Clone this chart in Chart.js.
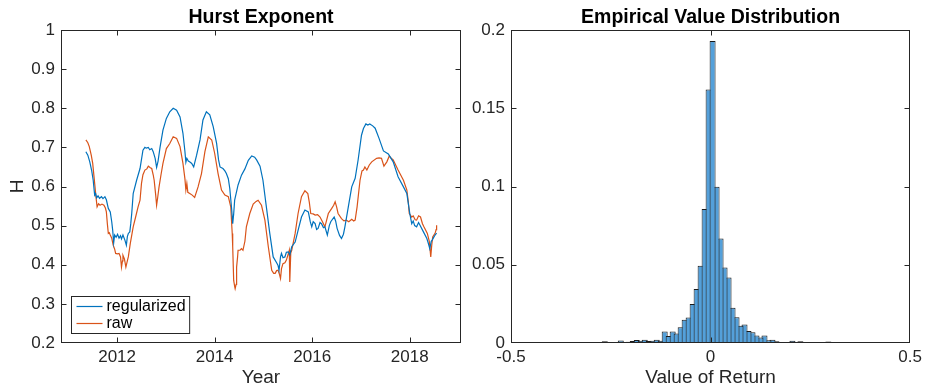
<!DOCTYPE html>
<html>
<head>
<meta charset="utf-8">
<script src="https://cdn.jsdelivr.net/npm/chart.js@4.4.1/dist/chart.umd.min.js"></script>
<style>
  html, body { margin: 0; padding: 0; background: #fff; }
  #wrap { position: relative; width: 926px; height: 391px; overflow: hidden; }
  canvas { position: absolute; top: 0; }
  #hurst { left: 0; }
  #dist { left: 465px; }
</style>
</head>
<body>
<div id="wrap">
  <canvas id="hurst" width="470" height="391"></canvas>
  <canvas id="dist" width="461" height="391"></canvas>
</div>
<script>
// ---- Hurst exponent, regularized estimate (decimal year, H) ----
const regYears = [
  2011.36, 2011.40, 2011.44, 2011.48, 2011.51, 2011.54, 2011.56, 2011.58, 2011.61, 2011.64,
  2011.68, 2011.71, 2011.75, 2011.78, 2011.82, 2011.86, 2011.89, 2011.91, 2011.93, 2011.95,
  2011.98, 2012.01, 2012.04, 2012.07, 2012.09, 2012.12, 2012.16, 2012.19, 2012.21, 2012.23,
  2012.26, 2012.28, 2012.30, 2012.33, 2012.40, 2012.47, 2012.53, 2012.57, 2012.60, 2012.64,
  2012.67, 2012.71, 2012.74, 2012.78, 2012.81, 2012.84, 2012.88, 2012.94, 2013.01, 2013.08,
  2013.15, 2013.22, 2013.29, 2013.35, 2013.39, 2013.41, 2013.43, 2013.46, 2013.50, 2013.53,
  2013.57, 2013.63, 2013.70, 2013.76, 2013.83, 2013.90, 2013.97, 2014.04, 2014.08, 2014.11,
  2014.14, 2014.17, 2014.21, 2014.24, 2014.28, 2014.31, 2014.35, 2014.37, 2014.39, 2014.41,
  2014.48, 2014.55, 2014.62, 2014.69, 2014.76, 2014.82, 2014.86, 2014.93, 2014.99, 2015.06,
  2015.13, 2015.20, 2015.27, 2015.30, 2015.32, 2015.35, 2015.37, 2015.40, 2015.44, 2015.47,
  2015.51, 2015.54, 2015.58, 2015.65, 2015.71, 2015.78, 2015.85, 2015.92, 2015.96, 2015.99,
  2016.02, 2016.06, 2016.09, 2016.12, 2016.16, 2016.19, 2016.23, 2016.26, 2016.31, 2016.35,
  2016.38, 2016.45, 2016.48, 2016.51, 2016.56, 2016.60, 2016.64, 2016.67, 2016.74, 2016.81,
  2016.88, 2016.94, 2017.01, 2017.05, 2017.10, 2017.14, 2017.18, 2017.24, 2017.29, 2017.37,
  2017.46, 2017.56, 2017.66, 2017.76, 2017.87, 2017.94, 2018.00, 2018.04, 2018.07, 2018.10,
  2018.14, 2018.18, 2018.21, 2018.28, 2018.35, 2018.38, 2018.41, 2018.44, 2018.46, 2018.49,
  2018.52, 2018.55
];
const regH = [
  0.689, 0.680, 0.663, 0.640, 0.616, 0.578, 0.582, 0.571, 0.576, 0.570,
  0.574, 0.569, 0.574, 0.566, 0.544, 0.535, 0.510, 0.488, 0.456, 0.476,
  0.470, 0.478, 0.468, 0.474, 0.466, 0.476, 0.463, 0.450, 0.472, 0.480,
  0.484, 0.505, 0.531, 0.582, 0.616, 0.646, 0.693, 0.700, 0.698, 0.700,
  0.694, 0.697, 0.689, 0.672, 0.649, 0.665, 0.700, 0.744, 0.774, 0.791,
  0.800, 0.795, 0.778, 0.736, 0.690, 0.662, 0.672, 0.665, 0.662, 0.659,
  0.650, 0.680, 0.719, 0.770, 0.791, 0.783, 0.753, 0.710, 0.668, 0.650,
  0.648, 0.646, 0.640, 0.633, 0.620, 0.595, 0.540, 0.505, 0.530, 0.565,
  0.604, 0.629, 0.645, 0.667, 0.678, 0.675, 0.668, 0.652, 0.616, 0.548,
  0.480, 0.420, 0.405, 0.398, 0.386, 0.420, 0.429, 0.418, 0.420, 0.432,
  0.433, 0.425, 0.446, 0.458, 0.488, 0.522, 0.540, 0.535, 0.510, 0.497,
  0.510, 0.505, 0.490, 0.493, 0.508, 0.505, 0.495, 0.497, 0.476, 0.500,
  0.510, 0.522, 0.512, 0.493, 0.475, 0.467, 0.478, 0.497, 0.548, 0.599,
  0.621, 0.667, 0.731, 0.748, 0.760, 0.757, 0.760, 0.755, 0.749, 0.723,
  0.691, 0.683, 0.663, 0.625, 0.599, 0.582, 0.531, 0.505, 0.512, 0.500,
  0.497, 0.508, 0.501, 0.484, 0.467, 0.455, 0.441, 0.460, 0.463, 0.470,
  0.476, 0.481
];

// ---- Hurst exponent, raw estimate (decimal year, H) ----
const rawYears = [
  2011.36, 2011.40, 2011.43, 2011.47, 2011.50, 2011.54, 2011.57, 2011.59, 2011.62, 2011.65,
  2011.69, 2011.73, 2011.76, 2011.78, 2011.80, 2011.82, 2011.84, 2011.86, 2011.89, 2011.92,
  2011.95, 2011.97, 2012.01, 2012.04, 2012.07, 2012.09, 2012.11, 2012.12, 2012.15, 2012.18,
  2012.21, 2012.23, 2012.27, 2012.33, 2012.38, 2012.43, 2012.47, 2012.50, 2012.53, 2012.57,
  2012.61, 2012.64, 2012.68, 2012.71, 2012.74, 2012.76, 2012.79, 2012.81, 2012.83, 2012.86,
  2012.90, 2012.94, 2013.01, 2013.08, 2013.15, 2013.22, 2013.29, 2013.35, 2013.39, 2013.41,
  2013.43, 2013.45, 2013.49, 2013.54, 2013.59, 2013.66, 2013.73, 2013.80, 2013.87, 2013.94,
  2014.00, 2014.07, 2014.14, 2014.21, 2014.28, 2014.33, 2014.36, 2014.37, 2014.39, 2014.41,
  2014.42, 2014.44, 2014.45, 2014.47, 2014.48, 2014.52, 2014.55, 2014.58, 2014.62, 2014.65,
  2014.72, 2014.79, 2014.85, 2014.89, 2014.96, 2015.03, 2015.10, 2015.17, 2015.21, 2015.24,
  2015.27, 2015.30, 2015.33, 2015.35, 2015.37, 2015.40, 2015.44, 2015.47, 2015.51, 2015.53,
  2015.54, 2015.56, 2015.58, 2015.65, 2015.71, 2015.78, 2015.85, 2015.91, 2015.94, 2015.97,
  2016.02, 2016.06, 2016.11, 2016.16, 2016.21, 2016.26, 2016.33, 2016.40, 2016.44, 2016.47,
  2016.50, 2016.53, 2016.60, 2016.65, 2016.70, 2016.75, 2016.81, 2016.85, 2016.88, 2016.92,
  2016.98, 2017.02, 2017.05, 2017.08, 2017.12, 2017.17, 2017.22, 2017.32, 2017.37, 2017.42,
  2017.47, 2017.53, 2017.58, 2017.62, 2017.66, 2017.76, 2017.87, 2017.94, 2017.97, 2017.99,
  2018.04, 2018.07, 2018.11, 2018.14, 2018.18, 2018.22, 2018.26, 2018.29, 2018.36, 2018.40,
  2018.43, 2018.45, 2018.47, 2018.52, 2018.54, 2018.55
];
const rawH = [
  0.719, 0.712, 0.702, 0.680, 0.659, 0.608, 0.570, 0.548, 0.556, 0.552,
  0.555, 0.552, 0.545, 0.535, 0.505, 0.480, 0.482, 0.476, 0.468, 0.450,
  0.440, 0.429, 0.428, 0.429, 0.420, 0.394, 0.410, 0.424, 0.415, 0.394,
  0.410, 0.420, 0.454, 0.497, 0.522, 0.548, 0.565, 0.608, 0.630, 0.642,
  0.645, 0.652, 0.648, 0.646, 0.630, 0.616, 0.580, 0.552, 0.570, 0.599,
  0.630, 0.659, 0.697, 0.710, 0.727, 0.723, 0.702, 0.659, 0.620, 0.591,
  0.608, 0.585, 0.582, 0.578, 0.572, 0.599, 0.633, 0.689, 0.727, 0.719,
  0.685, 0.633, 0.591, 0.578, 0.574, 0.548, 0.480, 0.446, 0.360, 0.345,
  0.339, 0.350, 0.394, 0.420, 0.437, 0.437, 0.441, 0.437, 0.460, 0.497,
  0.531, 0.555, 0.562, 0.565, 0.552, 0.514, 0.446, 0.386, 0.378, 0.378,
  0.385, 0.386, 0.375, 0.365, 0.390, 0.403, 0.405, 0.412, 0.428, 0.437,
  0.356, 0.430, 0.437, 0.480, 0.531, 0.574, 0.589, 0.582, 0.560, 0.531,
  0.530, 0.527, 0.528, 0.522, 0.510, 0.497, 0.531, 0.544, 0.552, 0.561,
  0.548, 0.531, 0.518, 0.512, 0.514, 0.510, 0.516, 0.512, 0.514, 0.548,
  0.616, 0.640, 0.642, 0.650, 0.642, 0.655, 0.663, 0.672, 0.673, 0.672,
  0.652, 0.663, 0.678, 0.672, 0.668, 0.642, 0.616, 0.591, 0.560, 0.531,
  0.522, 0.525, 0.515, 0.514, 0.525, 0.522, 0.505, 0.497, 0.480, 0.460,
  0.420, 0.450, 0.471, 0.481, 0.490, 0.501
];

const yearTicks = [2012, 2014, 2016, 2018];
const hTicks = [0.2, 0.3, 0.4, 0.5, 0.6, 0.7, 0.8, 0.9, 1];

// ---- Empirical distribution of returns: probability per 0.01-wide bin ----
const binWidth = 0.01;
const firstBinCenter = -0.405;
const binProb = [
  0.0004, 0.0002, 0.0002, 0.0003, 0.0002, 0.0003, 0.0003, 0.0004, 0.0004, 0.0003,
  0.0003, 0.0005, 0.0003, 0.0006, 0.0011, 0.0006, 0.0005, 0.0006, 0.0016, 0.0007,
  0.0008, 0.0012, 0.0019, 0.0014, 0.0020, 0.0012, 0.0015, 0.0020, 0.0014, 0.0073,
  0.0045, 0.0073, 0.0061, 0.0100, 0.0148, 0.0163, 0.0250, 0.0345, 0.0493, 0.0857,
  0.1620, 0.1930, 0.0998, 0.0668, 0.0482, 0.0418, 0.0225, 0.0164, 0.0110, 0.0118,
  0.0077, 0.0069, 0.0048, 0.0035, 0.0048, 0.0017, 0.0021, 0.0011, 0.0005, 0.0006,
  0.0006, 0.0015, 0.0004, 0.0011, 0.0004, 0.0003, 0.0003, 0.0006, 0.0003, 0.0003,
  0.0009, 0.0003, 0.0002, 0.0002, 0.0003, 0.0004, 0.0002, 0.0002, 0.0002, 0.0002,
  0.0003, 0.0004, 0.0002, 0.0004
];
const binCenters = binProb.map((_, i) => +(firstBinCenter + i * binWidth).toFixed(3));

const returnTicks = [-0.5, 0, 0.5];
const probTicks = [0, 0.05, 0.1, 0.15, 0.2];

// ---- shared styling ----
const FONT = '"Liberation Sans", Arial, Helvetica, sans-serif';
const AXIS_COLOR = '#262626';
const fmt = v => String(+Number(v).toFixed(3));

// Box around the plot area with inward tick marks on all four sides
const framePlugin = {
  id: 'frame',
  afterDatasetsDraw(chart) {
    const { ctx, chartArea: a, scales } = chart;
    const L = Math.round(a.left) + 0.5, R = Math.round(a.right) - 0.5;
    const T = Math.round(a.top) + 0.5, B = Math.round(a.bottom) - 0.5;
    const clamp = (v, lo, hi) => Math.min(hi, Math.max(lo, v));
    const len = 5;
    ctx.save();
    ctx.strokeStyle = AXIS_COLOR;
    ctx.lineWidth = 1;
    ctx.beginPath();
    scales.x.ticks.forEach(t => {
      const px = clamp(Math.round(scales.x.getPixelForValue(t.value)) + 0.5, L, R);
      ctx.moveTo(px, B); ctx.lineTo(px, B - len);
      ctx.moveTo(px, T); ctx.lineTo(px, T + len);
    });
    scales.y.ticks.forEach(t => {
      const py = clamp(Math.round(scales.y.getPixelForValue(t.value)) + 0.5, T, B);
      ctx.moveTo(L, py); ctx.lineTo(L + len, py);
      ctx.moveTo(R, py); ctx.lineTo(R - len, py);
    });
    ctx.stroke();
    ctx.strokeRect(L, T, R - L, B - T);
    ctx.restore();
  }
};

// Title above the plot, x label below, optional rotated y label
const labelPlugin = {
  id: 'labels',
  afterDraw(chart, args, opts) {
    const { ctx, chartArea: a } = chart;
    const cx = (a.left + a.right) / 2;
    ctx.save();
    ctx.textAlign = 'center';
    ctx.textBaseline = 'alphabetic';
    ctx.fillStyle = '#000';
    ctx.font = 'bold 19.5px ' + FONT;
    ctx.fillText(opts.title, cx, 23);
    ctx.fillStyle = AXIS_COLOR;
    ctx.font = '19px ' + FONT;
    ctx.fillText(opts.xTitle, cx, 383);
    if (opts.yTitle) {
      ctx.translate(23, (a.top + a.bottom) / 2);
      ctx.rotate(-Math.PI / 2);
      ctx.fillText(opts.yTitle, 0, 0);
    }
    ctx.restore();
  }
};

// Boxed legend in the lower-left corner of the plot area
const cornerLegendPlugin = {
  id: 'cornerLegend',
  afterDraw(chart) {
    const { ctx, chartArea: a } = chart;
    const sets = chart.data.datasets;
    ctx.save();
    ctx.font = '16px ' + FONT;
    const textW = Math.max(...sets.map(d => ctx.measureText(d.label).width));
    const x0 = Math.round(a.left) + 10.5;
    const rowH = 17;
    const h = 37;
    const y0 = Math.round(a.bottom) - 9.5 - h;
    const w = 35 + textW + 4;
    ctx.fillStyle = '#fff';
    ctx.fillRect(x0, y0, w, h);
    ctx.strokeStyle = AXIS_COLOR;
    ctx.lineWidth = 1;
    ctx.strokeRect(x0, y0, w, h);
    ctx.textBaseline = 'middle';
    ctx.textAlign = 'left';
    sets.forEach((d, i) => {
      const yy = y0 + 10 + i * rowH;
      ctx.strokeStyle = d.borderColor;
      ctx.lineWidth = 1.2;
      ctx.beginPath();
      ctx.moveTo(x0 + 5, yy); ctx.lineTo(x0 + 31, yy);
      ctx.stroke();
      ctx.fillStyle = '#000';
      ctx.fillText(d.label, x0 + 35, yy);
    });
    ctx.restore();
  }
};

const tickFont = { family: FONT, size: 17 };

function axisBase(min, max, tickValues) {
  return {
    type: 'linear',
    min, max,
    offset: false,
    grid: { display: false, drawTicks: false },
    border: { display: false },
    afterBuildTicks: s => { s.ticks = tickValues.map(v => ({ value: v })); },
    ticks: { font: tickFont, color: AXIS_COLOR, autoSkip: false, maxRotation: 0, callback: fmt }
  };
}

// ---- left: Hurst exponent over time ----
const hx = axisBase(2010.85, 2019.05, yearTicks);
hx.ticks.padding = 4;
hx.ticks.callback = v => String(v);
hx.afterFit = s => { s.height = 48; };
const hy = axisBase(0.2, 1, hTicks);
hy.ticks.padding = 6;
hy.afterFit = s => { s.width = 61; };

new Chart(document.getElementById('hurst'), {
  type: 'line',
  data: {
    datasets: [
      { label: 'regularized', data: regYears.map((x, i) => ({ x, y: regH[i] })),
        borderColor: '#0072BD', borderWidth: 1.2, pointRadius: 0, tension: 0, fill: false },
      { label: 'raw', data: rawYears.map((x, i) => ({ x, y: rawH[i] })),
        borderColor: '#D95319', borderWidth: 1.2, pointRadius: 0, tension: 0, fill: false }
    ]
  },
  options: {
    responsive: false, animation: false, devicePixelRatio: 1,
    layout: { padding: { top: 30, right: 9, left: 0, bottom: 0 } },
    plugins: {
      legend: { display: false }, tooltip: { enabled: false },
      labels: { title: 'Hurst Exponent', xTitle: 'Year', yTitle: 'H' }
    },
    scales: { x: hx, y: hy }
  },
  plugins: [framePlugin, labelPlugin, cornerLegendPlugin]
});

// ---- right: histogram of returns ----
const dx = axisBase(-0.5, 0.5, returnTicks);
dx.ticks.padding = 4;
dx.afterFit = s => { s.height = 48; };
const dy = axisBase(0, 0.2, probTicks);
dy.ticks.padding = 6;
dy.afterFit = s => { s.width = 46; };

// Bars are drawn a little wider than a bin so neighbouring outlines overlap
// into one shared edge. Bins are painted from the tails towards the mode
// (the right-hand side in reverse order), so a taller bar always sits on top.
const binPoints = binCenters.map((x, i) => ({ x, y: binProb[i] }));
const modeIndex = binProb.indexOf(Math.max(...binProb));
const barStyle = {
  backgroundColor: 'rgb(84,160,218)',
  borderColor: '#1a1a1a',
  borderWidth: 1,
  borderSkipped: false,
  barPercentage: 1.5,
  categoryPercentage: 1,
  grouped: false
};

new Chart(document.getElementById('dist'), {
  type: 'bar',
  data: {
    datasets: [
      Object.assign({ label: 'Probability', order: 1,
        data: binPoints.slice(modeIndex + 1).reverse() }, barStyle),
      Object.assign({ label: 'Probability', order: 0,
        data: binPoints.slice(0, modeIndex + 1) }, barStyle)
    ]
  },
  options: {
    responsive: false, animation: false, devicePixelRatio: 1,
    layout: { padding: { top: 30, right: 15, left: 0, bottom: 0 } },
    plugins: {
      legend: { display: false }, tooltip: { enabled: false },
      labels: { title: 'Empirical Value Distribution', xTitle: 'Value of Return' }
    },
    scales: { x: dx, y: dy }
  },
  plugins: [framePlugin, labelPlugin]
});
</script>
</body>
</html>
